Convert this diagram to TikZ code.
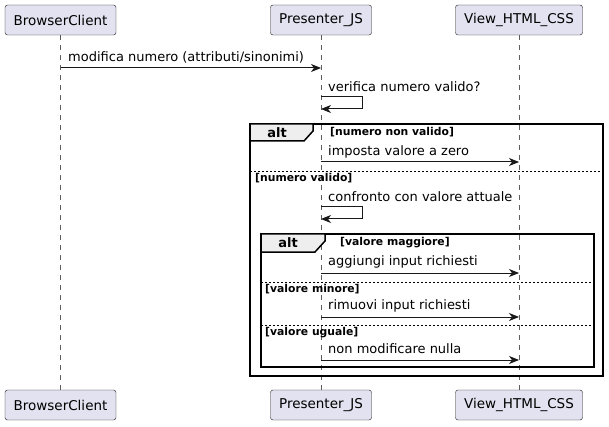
\documentclass[tikz,border=0pt]{standalone}
\usepackage{fontspec}
\setmainfont{DejaVu Sans}
\usetikzlibrary{arrows.meta,positioning,calc}
\definecolor{partfill}{HTML}{E2E2F0}
\definecolor{ink}{HTML}{181818}
\definecolor{tabfill}{HTML}{EEEEEE}
\tikzset{
  actor/.style={draw=ink,fill=partfill,rounded corners=2.5pt,minimum height=30pt,inner sep=0pt,font=\fontsize{13.5}{15}\selectfont},
  lifeline/.style={draw=ink!70,line width=0.5pt,dash pattern=on 5pt off 5pt},
  msg/.style={-{Stealth[length=10pt,width=8pt,inset=3pt]},draw=ink,line width=1pt},
  msglbl/.style={anchor=west,inner sep=0pt,font=\fontsize{13}{15}\selectfont},
  frame/.style={draw=black,line width=1.5pt},
  sep/.style={draw=black,line width=0.8pt,dash pattern=on 2pt off 2pt},
  guard/.style={anchor=west,inner sep=0pt,font=\bfseries\fontsize{10.8}{12}\selectfont},
  altlbl/.style={inner sep=0pt,font=\bfseries\fontsize{13}{15}\selectfont}
}
\begin{document}
\begin{tikzpicture}[x=1pt,y=-1pt]
        \useasboundingbox (0,0) rectangle (609,427);
        % participants
        \node[actor,minimum width=111pt] (bcT) at (60.5,20) {BrowserClient};
        \node[actor,minimum width=101pt] (prT) at (321,20) {Presenter\_JS};
        \node[actor,minimum width=127pt] (vwT) at (519,20) {View\_HTML\_CSS};
        \node[actor,minimum width=111pt] (bcB) at (60.5,405) {BrowserClient};
        \node[actor,minimum width=101pt] (prB) at (321,405) {Presenter\_JS};
        \node[actor,minimum width=127pt] (vwB) at (519,405) {View\_HTML\_CSS};
        \draw[lifeline] (bcT) -- (bcB);
        \draw[lifeline] (prT) -- (prB);
        \draw[lifeline] (vwT) -- (vwB);
        % outer alt
        \draw[frame] (250,124) rectangle (603,376);
        \draw[frame,fill=tabfill] (250,124) -- (313,124) -- (313,131) -- (304,141) -- (250,141) -- cycle;
        \node[altlbl] (alt1) at (277,132.5) {alt};
        \node[guard] (g1) at (330,132.5) {[numero non valido]};
        \draw[sep] (250,171) -- (603,171);
        \node[guard] (g2) at (255,178) {[numero valido]};
        % inner alt
        \draw[frame] (261,234) rectangle (594,367);
        \draw[frame,fill=tabfill] (261,234) -- (325,234) -- (325,241) -- (315,252) -- (261,252) -- cycle;
        \node[altlbl] (alt2) at (288,243) {alt};
        \node[guard] (g3) at (340,243) {[valore maggiore]};
        \draw[sep] (261,282) -- (594,282);
        \node[guard] (g4) at (265,289) {[valore minore]};
        \draw[sep] (261,325) -- (594,325);
        \node[guard] (g5) at (265,333) {[valore uguale]};
        % messages
        \node[msglbl] (m1) at (68,57.5) {modifica numero (attributi/sinonimi)};
        \draw[msg] (bcT |- 0,68) -- (prT |- 0,68);
        \node[msglbl] (m2) at (328,87) {verifica numero valido?};
        \draw[msg] (prT |- 0,97) -- ++(41,0) -- ++(0,12) -- (prT |- 0,109);
        \node[msglbl] (m3) at (328,151.5) {imposta valore a zero};
        \draw[msg] (prT |- 0,162) -- (vwT |- 0,162);
        \node[msglbl] (m4) at (328,197) {confronto con valore attuale};
        \draw[msg] (prT |- 0,207) -- ++(41,0) -- ++(0,12) -- (prT |- 0,219);
        \node[msglbl] (m5) at (328,262) {aggiungi input richiesti};
        \draw[msg] (prT |- 0,273) -- (vwT |- 0,273);
        \node[msglbl] (m6) at (328,305.5) {rimuovi input richiesti};
        \draw[msg] (prT |- 0,317) -- (vwT |- 0,317);
        \node[msglbl] (m7) at (328,349) {non modificare nulla};
        \draw[msg] (prT |- 0,360) -- (vwT |- 0,360);
      \end{tikzpicture}
\end{document}
